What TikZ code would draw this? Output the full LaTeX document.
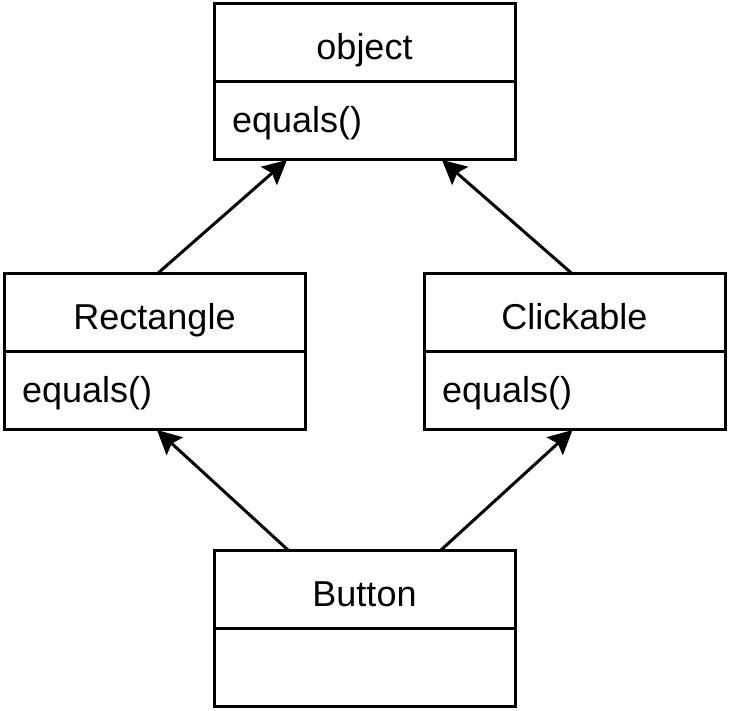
\documentclass[tikz,border=0pt]{standalone}
\usepackage{fontspec}
\setmainfont{Liberation Sans}
\usetikzlibrary{arrows.meta}
\begin{document}
\begin{tikzpicture}[x=1pt,y=-1pt,
  hdr/.style={draw, line width=3pt, outer sep=0pt, minimum width=301pt, minimum height=78pt,
    inner sep=0pt, font=\fontsize{36}{43}\selectfont, text height=34pt, text depth=0pt, anchor=north west},
  bdy/.style={draw, line width=3pt, outer sep=0pt, minimum width=301pt, minimum height=78pt,
    inner xsep=18pt, inner ysep=0pt, text width=265pt, align=left,
    font=\fontsize{36}{43}\selectfont, text height=30pt, text depth=6pt, anchor=north},
  arr/.style={line width=3pt, -{Stealth[length=24pt,width=24pt,inset=4pt]}}]
\useasboundingbox (0,0) rectangle (729,711);
\node[hdr] (objH) at (214,4) {object};
\node[bdy] (objB) at (objH.south) {equals()};
\node[hdr] (rectH) at (4,274) {Rectangle};
\node[bdy] (rectB) at (rectH.south) {equals()};
\node[hdr] (clkH) at (424,274) {Clickable};
\node[bdy] (clkB) at (clkH.south) {equals()};
\node[hdr] (btnH) at (214,550) {Button};
\node[bdy] (btnB) at (btnH.south) {};
\draw[arr] ([xshift=2.5pt]rectH.north) -- ([xshift=-77.5pt]objB.south);
\draw[arr] ([xshift=-2pt]clkH.north) -- ([xshift=77.5pt]objB.south);
\draw[arr] ([xshift=-76.5pt]btnH.north) -- ([xshift=2.5pt]rectB.south);
\draw[arr] ([xshift=76.5pt]btnH.north) -- ([xshift=-2pt]clkB.south);
\end{tikzpicture}
\end{document}
